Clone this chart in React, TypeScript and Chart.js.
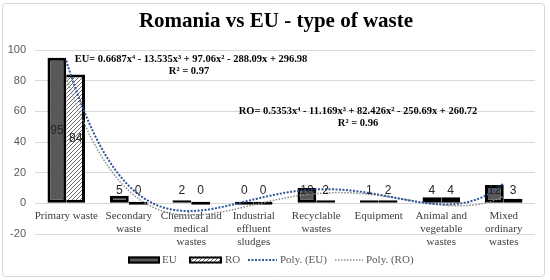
import React, { useEffect, useRef } from "react";
import { Chart, registerables } from "chart.js";

Chart.register(...registerables);

// ---------- data ----------
const categories: string[][] = [
  ["Primary waste"],
  ["Secondary", "waste"],
  ["Chemical and", "medical", "wastes"],
  ["Industrial", "effluent", "sludges"],
  ["Recyclable", "wastes"],
  ["Equipment"],
  ["Animal and", "vegetable", "wastes"],
  ["Mixed", "ordinary", "wastes"],
];
const euValues = [95, 5, 2, 0, 10, 1, 4, 12];
const roValues = [84, 0, 0, 0, 2, 2, 4, 3];
const yTicks = [-20, 0, 20, 40, 60, 80, 100];

// polynomial trendline coefficients (x^4, x^3, x^2, x, 1) as shown on the chart
const euPolyCoeffs = [0.6687, -13.535, 97.06, -288.09, 296.98];
const roPolyCoeffs = [0.5353, -11.169, 82.426, -250.69, 260.72];

const chartTitle = "Romania vs EU - type of waste";
const euEquation = "EU= 0.6687x\u2074 - 13.535x\u00B3 + 97.06x\u00B2 - 288.09x + 296.98";
const euR2 = "R\u00B2 = 0.97";
const roEquation = "RO= 0.5353x\u2074 - 11.169x\u00B3 + 82.426x\u00B2 - 250.69x + 260.72";
const roR2 = "R\u00B2 = 0.96";
const legendLabels = ["EU", "RO", "Poly. (EU)", "Poly. (RO)"];

// ---------- helpers ----------
const evalPoly = (c: number[], x: number) => c.reduce((acc, k) => acc * x + k, 0);

function makeHatch(ctx: CanvasRenderingContext2D): CanvasPattern | string {
  const c = document.createElement("canvas");
  c.width = 4;
  c.height = 4;
  const g = c.getContext("2d");
  if (!g) return "#ffffff";
  g.fillStyle = "#ffffff";
  g.fillRect(0, 0, 4, 4);
  g.strokeStyle = "#6a6a6a";
  g.lineWidth = 1;
  g.beginPath();
  g.moveTo(0, 4);
  g.lineTo(4, 0);
  g.moveTo(-1, 1);
  g.lineTo(1, -1);
  g.moveTo(3, 5);
  g.lineTo(5, 3);
  g.stroke();
  return ctx.createPattern(c, "repeat") || "#ffffff";
}

const SERIF = '"Liberation Serif", "Times New Roman", serif';
const SANS = '"Liberation Sans", Arial, sans-serif';
const EU_FILL = "#595959";
const EU_LINE = "#2F5597";
const RO_LINE = "#8C8C8C";

export default function App() {
  const canvasRef = useRef<HTMLCanvasElement | null>(null);

  useEffect(() => {
    document.body.style.margin = "0";
    const canvas = canvasRef.current;
    if (!canvas) return;
    const ctx = canvas.getContext("2d");
    if (!ctx) return;
    const hatch = makeHatch(ctx);

    const framePlugin = {
      id: "frame",
      beforeDraw(chart: any) {
        const c = chart.ctx;
        c.save();
        c.fillStyle = "#ffffff";
        c.fillRect(0, 0, chart.width, chart.height);
        c.strokeStyle = "#d9d9d9";
        c.lineWidth = 1;
        c.beginPath();
        (c as any).roundRect ? (c as any).roundRect(2.5, 3.5, 542, 273, 3) : c.rect(2.5, 3.5, 542, 273);
        c.stroke();
        c.restore();
      },
    };

    const drawTrend = (chart: any, coeffs: number[], color: string, width: number, dash: number[]) => {
      const c = chart.ctx;
      const xs = chart.scales.x;
      const ys = chart.scales.y;
      const area = chart.chartArea;
      c.save();
      c.beginPath();
      c.rect(area.left, area.top, area.right - area.left, area.bottom - area.top);
      c.clip();
      c.strokeStyle = color;
      c.lineWidth = width;
      c.setLineDash(dash);
      c.beginPath();
      const n = categories.length;
      for (let i = 0; i <= (n - 1) * 20; i++) {
        const xv = 1 + i / 20;
        const px = xs.getPixelForValue(xv - 1);
        const py = ys.getPixelForValue(evalPoly(coeffs, xv));
        if (i === 0) c.moveTo(px, py);
        else c.lineTo(px, py);
      }
      c.stroke();
      c.restore();
    };

    const overlayPlugin = {
      id: "overlay",
      afterDatasetsDraw(chart: any) {
        drawTrend(chart, roPolyCoeffs, RO_LINE, 1.5, [1.5, 1.5]);
        drawTrend(chart, euPolyCoeffs, EU_LINE, 2, [2, 1.5]);

        const c = chart.ctx;
        const yScale = chart.scales.y;
        c.save();
        c.font = `12px ${SANS}`;
        c.fillStyle = "#262626";
        c.textAlign = "center";
        c.textBaseline = "middle";
        [0, 1].forEach((di) => {
          const meta = chart.getDatasetMeta(di);
          const vals = chart.data.datasets[di].data as number[];
          meta.data.forEach((el: any, i: number) => {
            const mid = (el.y + el.base) / 2;
            const y = Math.min(mid, yScale.getPixelForValue(8));
            c.fillText(String(Math.round(vals[i])), el.x, y);
          });
        });
        c.restore();
      },
    };

    const annotPlugin = {
      id: "annotations",
      afterDraw(chart: any) {
        const c = chart.ctx;
        c.save();
        // title
        c.fillStyle = "#000000";
        c.textAlign = "center";
        c.textBaseline = "middle";
        c.font = `bold 21px ${SERIF}`;
        c.fillText(chartTitle, 276, 22);
        // equations
        c.font = `bold 10.5px ${SERIF}`;
        c.fillText(euEquation, 191, 59);
        c.fillText(euR2, 189, 71);
        c.fillText(roEquation, 358, 111);
        c.fillText(roR2, 358, 123);

        // legend
        const ly = 260;
        c.font = `11px ${SERIF}`;
        c.textAlign = "left";
        c.fillStyle = EU_FILL;
        c.fillRect(128, ly - 3.5, 32, 7);
        c.strokeStyle = "#000000";
        c.lineWidth = 2;
        c.strokeRect(129, ly - 2.5, 30, 5);
        c.fillStyle = "#595959";
        c.fillText(legendLabels[0], 162, ly + 0.5);
        c.fillStyle = hatch as any;
        c.fillRect(189, ly - 3.5, 33, 7);
        c.strokeRect(190, ly - 2.5, 31, 5);
        c.fillStyle = "#595959";
        c.fillText(legendLabels[1], 225, ly + 0.5);
        c.strokeStyle = EU_LINE;
        c.lineWidth = 2;
        c.setLineDash([2, 1.5]);
        c.beginPath();
        c.moveTo(248, ly);
        c.lineTo(277, ly);
        c.stroke();
        c.fillText(legendLabels[2], 280, ly + 0.5);
        c.strokeStyle = RO_LINE;
        c.lineWidth = 1.5;
        c.setLineDash([1.5, 1.5]);
        c.beginPath();
        c.moveTo(335, ly);
        c.lineTo(363, ly);
        c.stroke();
        c.setLineDash([]);
        c.fillText(legendLabels[3], 366, ly + 0.5);
        c.restore();
      },
    };

    const chart = new Chart(canvas, {
      type: "bar",
      data: {
        labels: categories as any,
        datasets: [
          {
            label: legendLabels[0],
            data: euValues,
            backgroundColor: EU_FILL,
            borderColor: "#000000",
            borderWidth: 3,
            borderSkipped: false,
            minBarLength: 3,
            categoryPercentage: 0.6,
            barPercentage: 1.0,
          } as any,
          {
            label: legendLabels[1],
            data: roValues,
            backgroundColor: hatch as any,
            borderColor: "#000000",
            borderWidth: { top: 3, right: 3, bottom: 3, left: 0 },
            borderSkipped: false,
            minBarLength: 3,
            categoryPercentage: 0.6,
            barPercentage: 1.0,
          } as any,
        ],
      },
      options: {
        animation: false,
        responsive: false,
        devicePixelRatio: 1,
        layout: { padding: { top: 50, bottom: 46, left: 0, right: 15 } },
        plugins: {
          legend: { display: false },
          title: { display: false },
          tooltip: { enabled: false },
        },
        scales: {
          x: {
            type: "category",
            position: { y: 0 } as any,
            offset: true,
            grid: { display: false },
            border: { display: false },
            ticks: {
              autoSkip: false,
              maxRotation: 0,
              minRotation: 0,
              padding: -1,
              color: "#404040",
              font: { family: SERIF, size: 11, lineHeight: 1.14 },
            },
            afterFit(s: any) {
              s.height = 0;
            },
          } as any,
          y: {
            min: yTicks[0],
            max: yTicks[yTicks.length - 1],
            afterBuildTicks(s: any) {
              s.ticks = yTicks.map((v) => ({ value: v }));
            },
            grid: { color: "#d9d9d9", drawTicks: false, lineWidth: 1 },
            border: { display: false },
            ticks: {
              padding: 9,
              color: "#595959",
              font: { family: SANS, size: 11 },
            },
            afterFit(s: any) {
              s.width = 35;
            },
          } as any,
        },
      },
      plugins: [framePlugin, overlayPlugin, annotPlugin],
    });

    return () => chart.destroy();
  }, []);

  return (
    <div style={{ width: 550, height: 280 }}>
      <canvas ref={canvasRef} width={550} height={280} />
    </div>
  );
}
